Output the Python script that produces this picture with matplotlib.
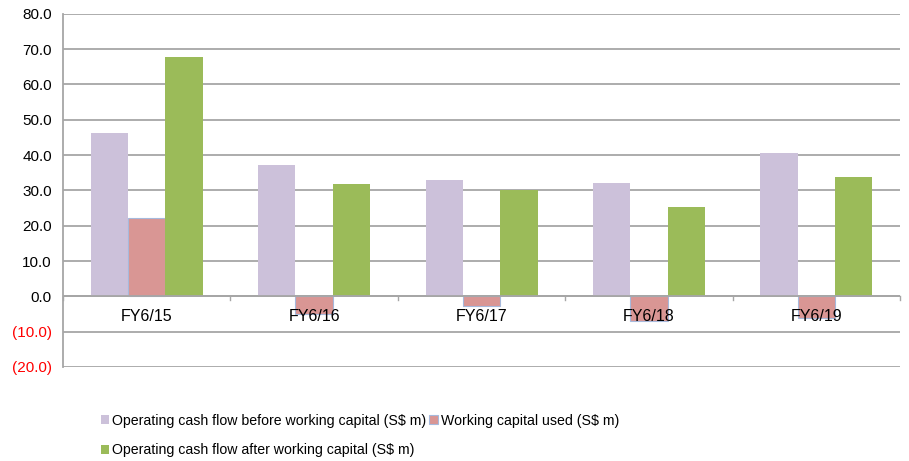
import numpy as np
import matplotlib.pyplot as plt
from matplotlib.ticker import FuncFormatter

years = ['FY6/15', 'FY6/16', 'FY6/17', 'FY6/18', 'FY6/19']
before_wc = [46.2, 37.1, 32.9, 32.0, 40.5]
wc_used = [22.1, -5.1, -2.8, -7.0, -6.1]
after_wc = [67.8, 31.7, 30.0, 25.2, 33.7]

labels = ['Operating cash flow before working capital (S$ m)',
          'Working capital used (S$ m)',
          'Operating cash flow after working capital (S$ m)']

plt.rcParams['font.family'] = ['Liberation Sans', 'DejaVu Sans']

fig = plt.figure(figsize=(9.09, 4.61), dpi=100)
ax = fig.add_axes([0.0693, 0.204, 0.921, 0.766])

x = np.arange(len(years))
w = 0.223
b1 = ax.bar(x - w, before_wc, w, color='#CCC1DA', label=labels[0])
b2 = ax.bar(x, wc_used, w, color='#D99694', edgecolor='#A6B9DC', linewidth=0.8, label=labels[1])
b3 = ax.bar(x + w, after_wc, w, color='#9BBB59', label=labels[2])

ax.set_xlim(-0.5, len(years) - 0.5)
ax.set_ylim(-20, 80)
ax.set_yticks(np.arange(-20, 81, 10))
ax.yaxis.set_major_formatter(FuncFormatter(lambda v, p: f'({abs(v):.1f})' if v < 0 else f'{v:.1f}'))
ax.tick_params(axis='y', length=0, labelsize=11, pad=8)
fig.canvas.draw()
for t, v in zip(ax.get_yticklabels(), ax.get_yticks()):
    if v < 0:
        t.set_color('red')

ax.grid(axis='y', color='#A6A6A6', linewidth=1.3)
ax.set_axisbelow(True)
for s in ['top', 'right', 'bottom']:
    ax.spines[s].set_visible(False)
ax.spines['left'].set_color('#A6A6A6')
ax.spines['left'].set_linewidth(1.3)

# category axis sits at zero
ax.set_xticks([])
ax.axhline(0, color='#A6A6A6', linewidth=1.3, zorder=1)
for b in np.arange(-0.5, len(years), 1.0):
    ax.plot([b, b], [0, -0.9], color='#A6A6A6', linewidth=1, clip_on=False, zorder=1)
for i, yr in enumerate(years):
    ax.text(i, -5.6, yr, ha='center', va='center', fontsize=11.5, zorder=5)

fig.legend(handles=[b1, b2], labels=labels[:2], loc='lower left',
           bbox_to_anchor=(0.097, 0.045), ncol=2, frameon=False, fontsize=10.2,
           handlelength=0.6, handleheight=0.6, handletextpad=0.2, columnspacing=0.2)
fig.legend(handles=[b3], labels=[labels[2]], loc='lower left',
           bbox_to_anchor=(0.097, -0.02), frameon=False, fontsize=10.2,
           handlelength=0.6, handleheight=0.6, handletextpad=0.2)

fig.savefig('out.png', dpi=100)
